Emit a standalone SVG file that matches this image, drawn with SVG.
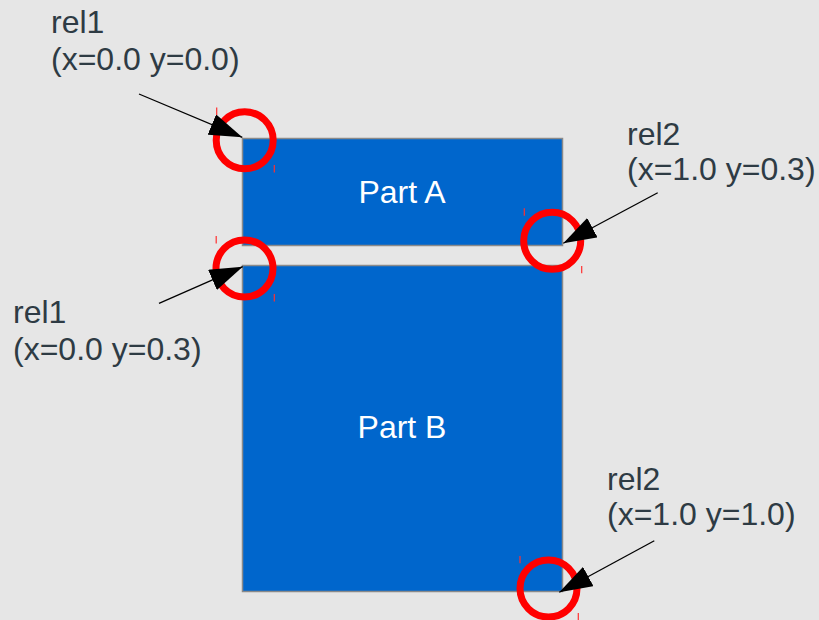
<svg xmlns="http://www.w3.org/2000/svg" width="819" height="620" viewBox="0 0 819 620">
<defs>
<style>
.bg{fill:#e6e6e6}
.part{fill:#0066cc;stroke:#8a8a8a;stroke-width:1.5}
.plabel{font-family:"Liberation Sans",Arial,sans-serif;font-size:32px;fill:#ffffff;text-anchor:middle}
.lbl{font-family:"Liberation Sans",Arial,sans-serif;font-size:32px;fill:#2e3b44}
.ring{fill:none;stroke:#ff0000;stroke-width:7}
.tick{stroke:#ff3030;stroke-width:1.2}
.conn{stroke:#000000;stroke-width:1.3;fill:none;marker-end:url(#head)}
</style>
<marker id="head" markerUnits="userSpaceOnUse" markerWidth="33" markerHeight="22" viewBox="0 0 33 22" refX="33" refY="11" orient="auto">
<path d="M0,0 L33,11 L0,22 z" fill="#000000"/>
</marker>
</defs>
<rect class="bg" x="0" y="0" width="819" height="620"/>
<g id="partA">
<rect class="part" x="242.5" y="138.5" width="320" height="107"/>
<text class="plabel" x="402" y="203">Part A</text>
</g>
<g id="partB">
<rect class="part" x="242.5" y="265.5" width="320" height="326"/>
<text class="plabel" x="402" y="438">Part B</text>
</g>
<g id="rel1A">
<circle class="ring" cx="244.7" cy="140.3" r="28.5"/>
<line class="tick" x1="216.7" y1="107.5" x2="216.7" y2="115"/>
<line class="tick" x1="274.3" y1="165" x2="274.3" y2="172.5"/>
<text class="lbl" x="51" y="33">rel1</text>
<text class="lbl" x="51" y="70">(x=0.0 y=0.0)</text>
</g>
<g id="rel1B">
<circle class="ring" cx="244.5" cy="268.5" r="28.5"/>
<line class="tick" x1="216.2" y1="236" x2="216.2" y2="243.5"/>
<line class="tick" x1="274.3" y1="294" x2="274.3" y2="301.5"/>
<text class="lbl" x="13" y="323">rel1</text>
<text class="lbl" x="13" y="360">(x=0.0 y=0.3)</text>
</g>
<g id="rel2A">
<circle class="ring" cx="552.2" cy="240.8" r="28.5"/>
<line class="tick" x1="524.3" y1="208.3" x2="524.3" y2="215.7"/>
<line class="tick" x1="581.7" y1="266" x2="581.7" y2="273.3"/>
<text class="lbl" x="627" y="145">rel2</text>
<text class="lbl" x="627" y="180">(x=1.0 y=0.3)</text>
</g>
<g id="rel2B">
<circle class="ring" cx="548.5" cy="588.5" r="28.5"/>
<line class="tick" x1="520" y1="556" x2="520" y2="563.3"/>
<line class="tick" x1="578.3" y1="613" x2="578.3" y2="620"/>
<text class="lbl" x="607" y="490">rel2</text>
<text class="lbl" x="607" y="525">(x=1.0 y=1.0)</text>
</g>
<g id="connectors">
<line class="conn" x1="139" y1="94" x2="242.3" y2="137.3"/>
<line class="conn" x1="159" y1="303.3" x2="242.7" y2="266.7"/>
<line class="conn" x1="657.7" y1="192.7" x2="563.3" y2="243.3"/>
<line class="conn" x1="654.3" y1="540.7" x2="559.3" y2="592.3"/>
</g>
</svg>
